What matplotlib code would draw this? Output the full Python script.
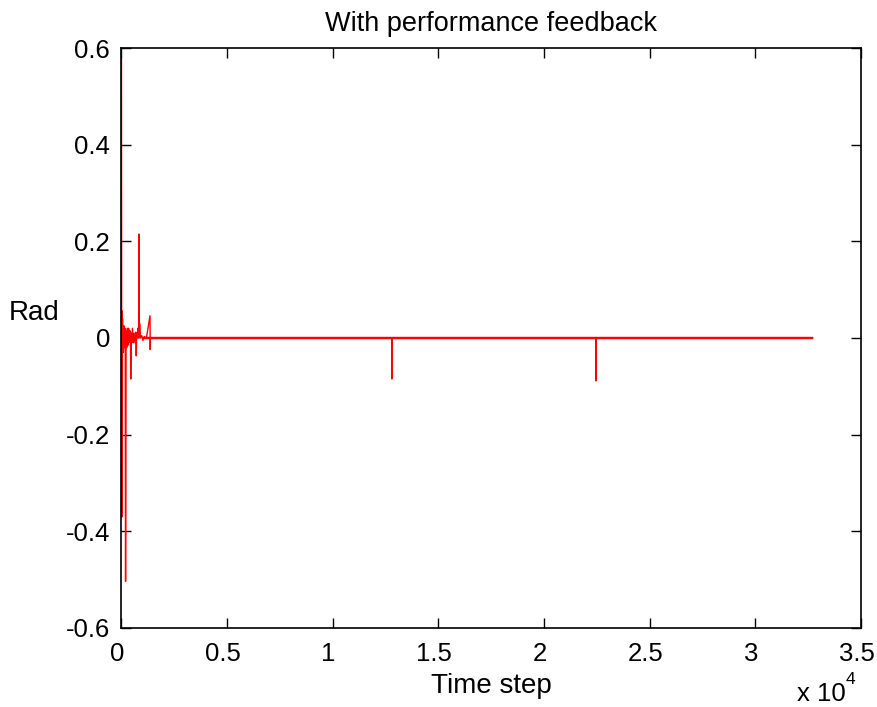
import matplotlib
matplotlib.use("Agg")
import matplotlib.pyplot as plt
import matplotlib.transforms as mtransforms
import numpy as np

plt.rcParams['font.family'] = ['Liberation Sans', 'DejaVu Sans']

# Key samples of the response (time step, rad)
t_points = [20, 30, 40, 55, 70, 80, 90, 110, 140, 170, 200, 215, 240, 270, 300, 330, 360,
            390, 420, 450, 460, 480, 510, 540, 580, 620, 660, 700, 720, 740, 770, 800,
            830, 850, 860, 880, 920, 980, 1040, 1100, 1200, 1370, 1380, 1390, 1400,
            12800, 12810, 12820, 22450, 22460, 22470, 32700]
y_points = [0.578, 0.0, 0.056, -0.37, 0.04, -0.02, 0.02, -0.03, 0.025, -0.02, 0.02, -0.504, 0.015,
            -0.02, 0.02, -0.015, 0.02, -0.01, 0.015, -0.01, -0.085, 0.01, -0.01, 0.02, -0.01,
            0.01, -0.01, 0.012, -0.037, 0.01, 0.0, 0.02, 0.0, 0.215, 0.0, 0.03, 0.0, 0.005,
            -0.005, 0.003, 0.0, 0.046, -0.024, 0.0, 0.0,
            0.0, -0.085, 0.0, 0.0, -0.089, 0.0, 0.0]

# Residual noise band around zero after settling
band_start = 1000
band_end = 32700
band_amp = 0.0024

x_ticks = [0, 0.5, 1, 1.5, 2, 2.5, 3, 3.5]
y_ticks = [-0.6, -0.4, -0.2, 0, 0.2, 0.4, 0.6]

fig = plt.figure(figsize=(8.77, 7.07), dpi=100)
ax = fig.add_axes([0.138, 0.112, 0.844, 0.820])

ax.fill_between([band_start, band_end], [-band_amp, -band_amp], [band_amp, band_amp],
                color='red', linewidth=0.3)
ax.plot(t_points, y_points, color='red', linewidth=1.0)

ax.set_xlim(0, 35000)
ax.set_ylim(-0.6, 0.6)
ax.set_xticks([v * 1e4 for v in x_ticks])
ax.set_xticklabels([f"{v:g}" for v in x_ticks])
ax.set_yticks(y_ticks)
ax.set_yticklabels([f"{v:g}" for v in y_ticks])
ax.tick_params(direction='in', top=True, right=True, labelsize=18.5, length=7, width=1)
ax.tick_params(axis='x', pad=10)
ax.tick_params(axis='y', pad=8)
for s in ax.spines.values():
    s.set_linewidth(1.2)

shift = mtransforms.ScaledTranslation(-4 / 100, 0, fig.dpi_scale_trans)
for lbl in ax.get_xticklabels():
    lbl.set_transform(lbl.get_transform() + shift)

ax.set_title("With performance feedback", fontsize=19.5, pad=12)
ax.set_xlabel("Time step", fontsize=20, labelpad=5)
fig.text(34 / 877, 1 - 313 / 707, "Rad", fontsize=20, ha='center', va='center')
fig.text(797 / 877, 6 / 707, "x 10", fontsize=18.5, ha='left', va='baseline')
fig.text(846 / 877, 23 / 707, "4", fontsize=12.5, ha='left', va='baseline')

fig.savefig("out.png", dpi=100)
